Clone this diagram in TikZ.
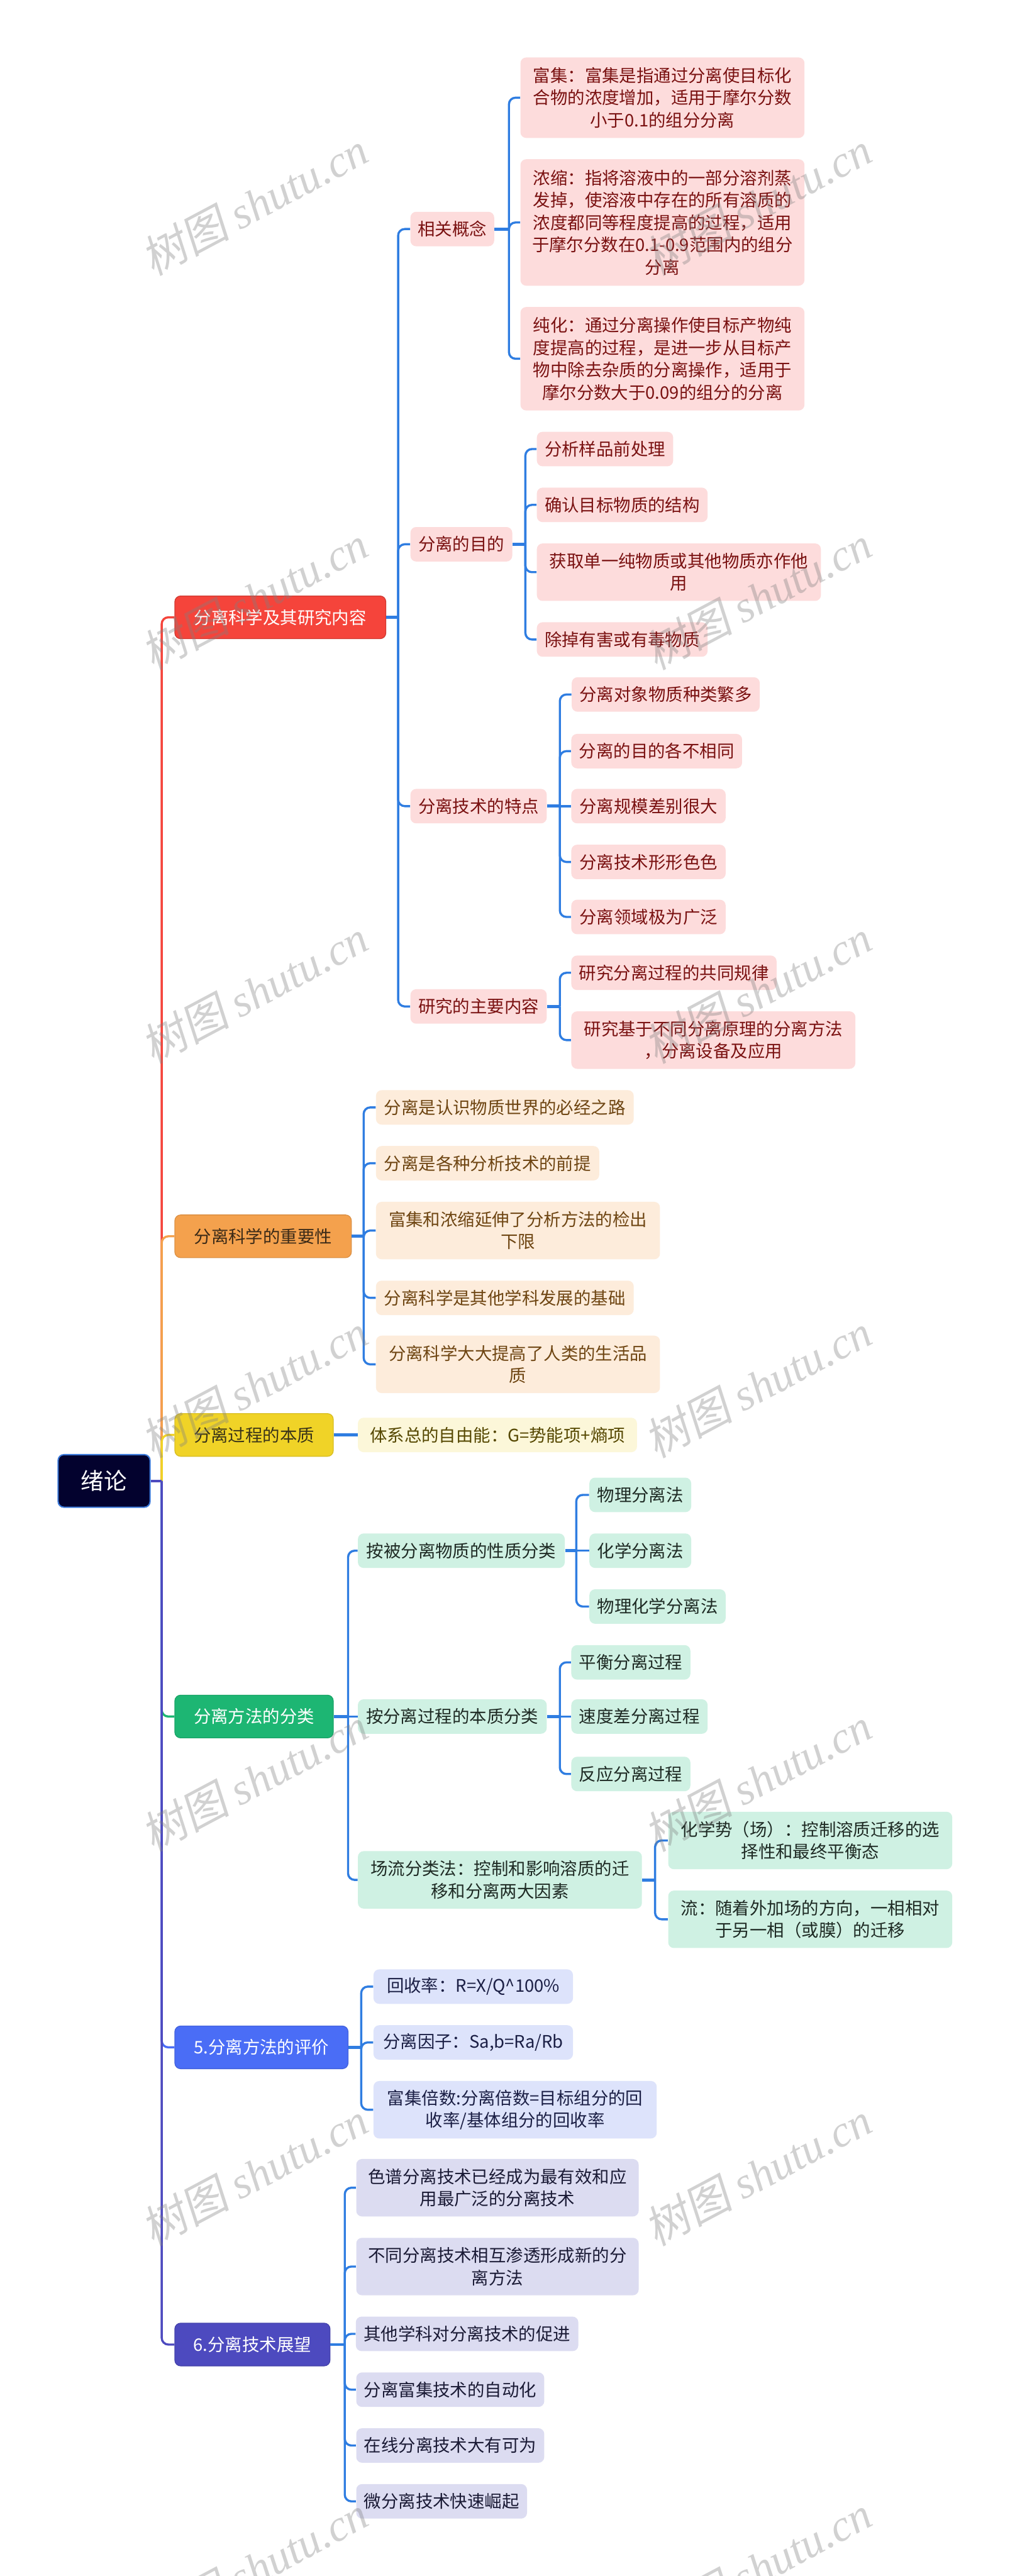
\documentclass[tikz,border=0pt]{standalone}
\usepackage{fontspec}
\setmainfont{Noto Sans CJK SC}
\newfontfamily\wmlat{Liberation Serif}
\newfontfamily\wmcjk{Noto Sans CJK SC}[FakeSlant=0.18]
\newcommand\fsn{\fontsize{10.5pt}{13.6pt}\selectfont}
\definecolor{rootc}{HTML}{03022E}
\definecolor{rootb}{HTML}{3A78D8}
\definecolor{cRed}{HTML}{F5443B}
\definecolor{cOra}{HTML}{F4A14D}
\definecolor{cYel}{HTML}{F0D327}
\definecolor{cGrn}{HTML}{1DB673}
\definecolor{cBlu}{HTML}{4A6DF6}
\definecolor{cInd}{HTML}{4D4ABF}
\definecolor{cLine}{HTML}{2F7DE1}
\definecolor{tOra}{HTML}{3B2A17}
\definecolor{tYel}{HTML}{3A3418}
\definecolor{fPk}{HTML}{FDDCDC}\definecolor{tPk}{HTML}{7A1111}
\definecolor{fPe}{HTML}{FDECDB}\definecolor{tPe}{HTML}{6E4512}
\definecolor{fYe}{HTML}{FCF7D9}\definecolor{tYe}{HTML}{554700}
\definecolor{fMi}{HTML}{CFF1E3}\definecolor{tMi}{HTML}{1E2A24}
\definecolor{fLb}{HTML}{DDE3FB}\definecolor{tLb}{HTML}{1B1F45}
\definecolor{fLv}{HTML}{DCDCF1}\definecolor{tLv}{HTML}{1A1A35}
\definecolor{wmc}{HTML}{808080}
\tikzset{
  base/.style={rounded corners=3.5pt, inner sep=0pt, align=center, font=\fsn, minimum height=21pt},
  rootn/.style={base, fill=rootc, draw=rootb, line width=0.8pt, text=white, font=\fontsize{14pt}{16pt}\selectfont},
  lone/.style={base, minimum height=26pt, line width=0.5pt},
  pk/.style={base, fill=fPk, text=tPk},
  pe/.style={base, fill=fPe, text=tPe},
  ye/.style={base, fill=fYe, text=tYe},
  mi/.style={base, fill=fMi, text=tMi},
  lb/.style={base, fill=fLb, text=tLb},
  lv/.style={base, fill=fLv, text=tLv},
  lline/.style={line width=1.3pt, rounded corners=4pt},
  conn/.style={line width=1.3pt, draw=cLine, rounded corners=4pt},
  stub/.style={line width=1.8pt, draw=cLine},
  wm/.style={text=wmc, text opacity=0.36, font=\fontsize{27pt}{30pt}\selectfont, inner sep=0pt, rotate=28},
}
\begin{document}
\begin{tikzpicture}[x=1pt,y=-1pt]
\useasboundingbox (0,0) rectangle (615,1569);
\fill[white] (0,0) rectangle (615,1569);

% root
\node[rootn, minimum width=56pt, minimum height=32pt] (root) at (63.4,902) {绪论};

% level 1
\node[lone, fill=cRed, draw=cRed!85!black, text=white, minimum width=128.5pt] (a) at (170.75,376) {分离科学及其研究内容};
\node[lone, fill=cOra, draw=cOra!90!black, text=tOra, minimum width=107.5pt] (b) at (160.25,753) {分离科学的重要性};
\node[lone, fill=cYel, draw=cYel!90!black, text=tYel, minimum width=96.5pt] (c) at (154.75,874) {分离过程的本质};
\node[lone, fill=cGrn, draw=cGrn!90!black, text=white, minimum width=96.5pt] (d) at (154.75,1045.5) {分离方法的分类};
\node[lone, fill=cBlu, draw=cBlu!90!black, text=white, minimum width=105.5pt] (e) at (159.25,1247) {5.分离方法的评价};
\node[lone, fill=cInd, draw=cInd!90!black, text=white, minimum width=94.5pt] (f) at (153.75,1428) {6.分离技术展望};

% branch a
\node[pk, minimum width=51pt] (a1) at (275.5,139.5) {相关概念};
\node[pk, minimum width=62pt] (a2) at (281,331.5) {分离的目的};
\node[pk, minimum width=83pt] (a3) at (291.5,491) {分离技术的特点};
\node[pk, minimum width=83pt] (a4) at (291.5,613) {研究的主要内容};

\node[pk, minimum width=173pt, minimum height=49pt] (a11) at (403.5,59.5) {富集：富集是指通过分离使目标化\\合物的浓度增加，适用于摩尔分数\\小于0.1的组分分离};
\node[pk, minimum width=173pt, minimum height=77pt] (a12) at (403.5,135.5) {浓缩：指将溶液中的一部分溶剂蒸\\发掉，使溶液中存在的所有溶质的\\浓度都同等程度提高的过程，适用\\于摩尔分数在0.1-0.9范围内的组分\\分离};
\node[pk, minimum width=173pt, minimum height=63pt] (a13) at (403.5,218.5) {纯化：通过分离操作使目标产物纯\\度提高的过程，是进一步从目标产\\物中除去杂质的分离操作，适用于\\摩尔分数大于0.09的组分的分离};

\node[pk, minimum width=83pt] (a21) at (368.5,273.5) {分析样品前处理};
\node[pk, minimum width=104pt] (a22) at (379,307.5) {确认目标物质的结构};
\node[pk, minimum width=173pt, minimum height=35pt] (a23) at (413.5,348.5) {获取单一纯物质或其他物质亦作他\\用};
\node[pk, minimum width=104pt] (a24) at (379,389.5) {除掉有害或有毒物质};

\node[pk, minimum width=114.5pt] (a31) at (405.5,423) {分离对象物质种类繁多};
\node[pk, minimum width=104pt] (a32) at (400,457.5) {分离的目的各不相同};
\node[pk, minimum width=94pt] (a33) at (395,491) {分离规模差别很大};
\node[pk, minimum width=94pt] (a34) at (395,525) {分离技术形形色色};
\node[pk, minimum width=94pt] (a35) at (395,558.5) {分离领域极为广泛};

\node[pk, minimum width=125pt] (a41) at (410.5,592.5) {研究分离过程的共同规律};
\node[pk, minimum width=173pt, minimum height=35pt] (a42) at (434.5,633.5) {研究基于不同分离原理的分离方法\\，分离设备及应用};

% branch b
\node[pe, minimum width=157pt] (b1) at (307.5,674.5) {分离是认识物质世界的必经之路};
\node[pe, minimum width=136pt] (b2) at (297,708.5) {分离是各种分析技术的前提};
\node[pe, minimum width=173pt, minimum height=35pt] (b3) at (315.5,749.5) {富集和浓缩延伸了分析方法的检出\\下限};
\node[pe, minimum width=157pt] (b4) at (307.5,790.5) {分离科学是其他学科发展的基础};
\node[pe, minimum width=173pt, minimum height=35pt] (b5) at (315.5,831) {分离科学大大提高了人类的生活品\\质};

% branch c
\node[ye, minimum width=170pt] (c1) at (303,874) {体系总的自由能：G=势能项+熵项};

% branch d
\node[mi, minimum width=126pt] (d1) at (281,944.5) {按被分离物质的性质分类};
\node[mi, minimum width=115pt] (d2) at (275.5,1045.5) {按分离过程的本质分类};
\node[mi, minimum width=173pt, minimum height=35pt] (d3) at (304.5,1145) {场流分类法：控制和影响溶质的迁\\移和分离两大因素};
\node[mi, minimum width=62pt] (d11) at (390,910.5) {物理分离法};
\node[mi, minimum width=62pt] (d12) at (390,944.5) {化学分离法};
\node[mi, minimum width=83pt] (d13) at (400.5,978.5) {物理化学分离法};
\node[mi, minimum width=72.5pt] (d21) at (384.25,1012.5) {平衡分离过程};
\node[mi, minimum width=83pt] (d22) at (389.5,1045.5) {速度差分离过程};
\node[mi, minimum width=72.5pt] (d23) at (384.25,1080.5) {反应分离过程};
\node[mi, minimum width=173pt, minimum height=35pt] (d31) at (493.5,1121) {化学势（场）：控制溶质迁移的选\\择性和最终平衡态};
\node[mi, minimum width=173pt, minimum height=35pt] (d32) at (493.5,1169) {流：随着外加场的方向，一相相对\\于另一相（或膜）的迁移};

% branch e
\node[lb, minimum width=121.5pt] (e1) at (288.25,1210) {回收率：R=X/Q\textasciicircum100\%};
\node[lb, minimum width=121.5pt] (e2) at (288.25,1244) {分离因子：Sa,b=Ra/Rb};
\node[lb, minimum width=172.5pt, minimum height=35pt] (e3) at (313.75,1285) {富集倍数:分离倍数=目标组分的回\\收率/基体组分的回收率};

% branch f
\node[lv, minimum width=172pt, minimum height=35pt] (f1) at (303,1332.5) {色谱分离技术已经成为最有效和应\\用最广泛的分离技术};
\node[lv, minimum width=172pt, minimum height=35pt] (f2) at (303,1380.5) {不同分离技术相互渗透形成新的分\\离方法};
\node[lv, minimum width=135.5pt] (f3) at (284.5,1421.5) {其他学科对分离技术的促进};
\node[lv, minimum width=114.5pt] (f4) at (274.25,1455.5) {分离富集技术的自动化};
\node[lv, minimum width=114.5pt] (f5) at (274.25,1489.5) {在线分离技术大有可为};
\node[lv, minimum width=104pt] (f6) at (269,1523.5) {微分离技术快速崛起};

% junctions
\coordinate (j0) at (98.5,902);
\coordinate (ja) at (242.5,376);
\coordinate (ja1) at (310,139.5);
\coordinate (ja2) at (320,331.5);
\coordinate (ja3) at (341,491);
\coordinate (ja4) at (341,613);
\coordinate (jb) at (221.5,753);
\coordinate (jd) at (212,1045.5);
\coordinate (jd1) at (351,944.5);
\coordinate (jd2) at (341,1045.5);
\coordinate (jd3) at (399,1145);
\coordinate (je) at (220,1247);
\coordinate (jf) at (210,1428);

% level-1 connectors
\draw[lline, draw=cRed] (j0) |- (a.west);
\draw[lline, draw=cOra] (j0) |- (b.west);
\draw[lline, draw=cYel] (j0) |- (c.west);
\draw[lline, draw=cGrn] (j0) |- (d.west);
\draw[lline, draw=cBlu] (j0) |- (e.west);
\draw[lline, draw=cInd] (j0) |- (f.west);
\draw[line width=1.5pt, draw=cInd] (root.east) -- (j0);

% branch a connectors
\draw[stub] (a.east) -- (ja);
\foreach \n in {a1,a2,a3,a4} \draw[conn] (ja) |- (\n.west);
\draw[stub] (a1.east) -- (ja1);
\foreach \n in {a11,a12,a13} \draw[conn] (ja1) |- (\n.west);
\draw[stub] (a2.east) -- (ja2);
\foreach \n in {a21,a22,a23,a24} \draw[conn] (ja2) |- (\n.west);
\draw[stub] (a3.east) -- (ja3);
\foreach \n in {a31,a32,a34,a35} \draw[conn] (ja3) |- (\n.west);
\draw[conn] (ja3) -- (a33.west);
\draw[stub] (a4.east) -- (ja4);
\foreach \n in {a41,a42} \draw[conn] (ja4) |- (\n.west);

% branch b
\draw[stub] (b.east) -- (jb);
\foreach \n in {b1,b2,b3,b4,b5} \draw[conn] (jb) |- (\n.west);

% branch c
\draw[stub] (c.east) -- (c1.west);

% branch d
\draw[stub] (d.east) -- (jd);
\foreach \n in {d1,d3} \draw[conn] (jd) |- (\n.west);
\draw[conn] (jd) -- (d2.west);
\draw[stub] (d1.east) -- (jd1);
\foreach \n in {d11,d13} \draw[conn] (jd1) |- (\n.west);
\draw[conn] (jd1) -- (d12.west);
\draw[stub] (d2.east) -- (jd2);
\foreach \n in {d21,d23} \draw[conn] (jd2) |- (\n.west);
\draw[conn] (jd2) -- (d22.west);
\draw[stub] (d3.east) -- (jd3);
\foreach \n in {d31,d32} \draw[conn] (jd3) |- (\n.west);

% branch e
\draw[stub] (e.east) -- (je);
\foreach \n in {e1,e2,e3} \draw[conn] (je) |- (\n.west);

% branch f
\draw[stub] (f.east) -- (jf);
\foreach \n in {f1,f2,f3,f4,f5,f6} \draw[conn] (jf) |- (\n.west);

% watermarks
\begin{scope}
\clip (0,0) rectangle (615,1569);
\foreach \i/\yy in {1/124,2/364,3/604,4/844,5/1084,6/1324,7/1564} {
  \node[wm] (wl\i) at (155,\yy) {{\wmcjk 树图} {\wmlat\itshape shutu.cn}};
  \node[wm] (wr\i) at (461.5,\yy) {{\wmcjk 树图} {\wmlat\itshape shutu.cn}};
}
\end{scope}
\end{tikzpicture}
\end{document}
